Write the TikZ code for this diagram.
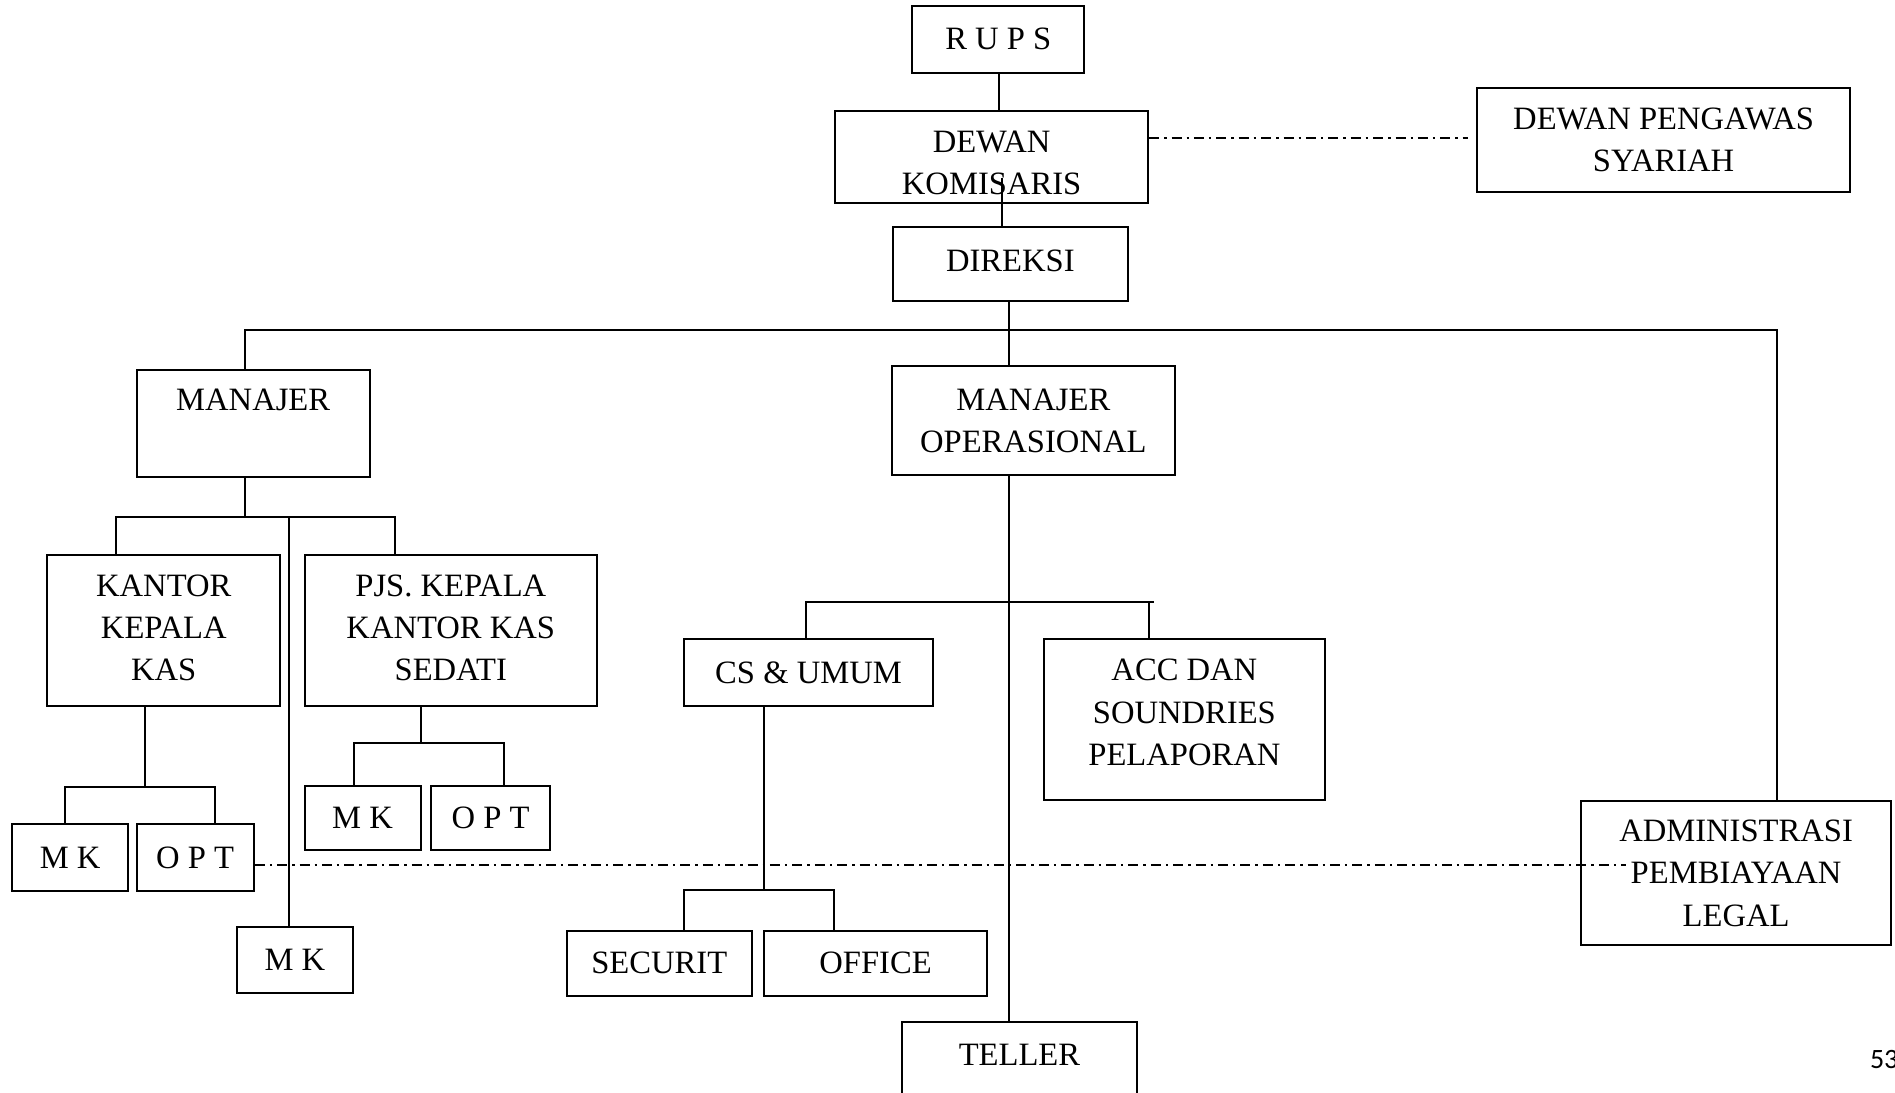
\documentclass[tikz,border=0pt]{standalone}
\usepackage{fontspec}
\setmainfont{Liberation Serif}
\newfontfamily\pagefont{Carlito}
\newcommand\bx[7][0]{%
  \node[box, minimum width={(#5-#3)*0.6043pt}, minimum height={(#6-#4)*0.6043pt}] (#2) at ({(#3+#5)/2},{(#4+#6)/2}) {};
  \node[boxtext, yshift=#1*0.6043pt] (#2t) at (#2.center) {#7};}
\begin{document}
\begin{tikzpicture}[x=0.6043pt, y=-0.6043pt,
  box/.style={draw, line width=1pt, inner sep=0pt},
  boxtext/.style={align=center, inner sep=0pt, font=\fontsize{16.3}{21.15}\selectfont},
  conn/.style={line width=1pt},
  ddot/.style={line width=1pt, dash pattern=on 5pt off 2.5pt on 1.2pt off 2.5pt}]
\useasboundingbox (0,0) rectangle (1568,904);
% boxes
\bx{rups}{755}{5}{897}{60}{R U P S}
\bx[-5]{dk}{691}{92}{950}{168}{DEWAN\\KOMISARIS}
\bx{dps}{1222}{73}{1531}{159}{DEWAN PENGAWAS\\SYARIAH}
\bx[3]{dir}{739}{188}{933}{249}{DIREKSI}
\bx[2]{mgr}{113}{306}{306}{395}{MANAJER\\~}
\bx{mo}{738}{303}{972}{393}{MANAJER\\OPERASIONAL}
\bx[2]{kkk}{39}{459}{232}{584}{KANTOR\\KEPALA\\KAS}
\bx[2]{pjs}{252}{459}{494}{584}{PJS. KEPALA\\KANTOR KAS\\SEDATI}
\bx{cs}{566}{529}{772}{584}{CS \& UMUM}
\bx[6]{acc}{864}{529}{1096}{662}{ACC DAN\\SOUNDRIES\\PELAPORAN}
\bx{adm}{1308}{663}{1565}{782}{ADMINISTRASI\\PEMBIAYAAN\\LEGAL}
\bx{mka}{10}{682}{106}{737}{M K}
\bx{opta}{113}{682}{210}{737}{O P T}
\bx{mkb}{252}{650}{348}{703}{M K}
\bx{optb}{357}{650}{455}{703}{O P T}
\bx{mkc}{196}{767}{292}{822}{M K}
\bx{sec}{469}{770}{622}{824}{SECURIT}
\bx{off}{632}{770}{817}{824}{OFFICE}
\bx{tel}{746}{846}{941}{934}{TELLER\\~}
\node[font=\pagefont\fontsize{14}{14}\selectfont, anchor=west, inner sep=0pt] (pg) at (1547,877) {53};
% junction coordinates
\coordinate (k0) at (827,60);
\coordinate (k1) at (829,147);
\coordinate (j0) at (835,273);
\coordinate (j1) at (203,273);
\coordinate (j2) at (1470,273);
\coordinate (b2l) at (96,428);
\coordinate (b2r) at (327,428);
\coordinate (j4) at (239,428);
\coordinate (j5) at (120,651);
\coordinate (b3l) at (54,651);
\coordinate (b3r) at (178,651);
\coordinate (j6) at (348,615);
\coordinate (b4l) at (293,615);
\coordinate (b4r) at (417,615);
\coordinate (b5l) at (667,498);
\coordinate (b5r) at (955,498);
\coordinate (b5d) at (951,498);
\coordinate (j7) at (632,736);
\coordinate (b6l) at (566,736);
\coordinate (b6r) at (690,736);
\coordinate (dd1) at (1345,716);
\coordinate (dd0) at (1215,114);
% connectors
\draw[conn] (k0) -- (k0 |- dk.north);
\draw[conn] (k1) -- (k1 |- dir.north);
\draw[ddot] (dk.east |- dd0) -- (dd0);
\draw[conn] (j0 |- dir.south) -- (j0 |- mo.north);
\draw[conn] (j1 |- mgr.north) -- (j1) -- (j2) -- (j2 |- adm.north);
\draw[conn] (j1 |- mgr.south) -- (j1 |- b2l);
\draw[conn] (b2l |- kkk.north) -- (b2l) -- (b2r) -- (b2r |- pjs.north);
\draw[conn] (j4) -- (j4 |- mkc.north);
\draw[conn] (j5 |- kkk.south) -- (j5);
\draw[conn] (b3l |- mka.north) -- (b3l) -- (b3r) -- (b3r |- opta.north);
\draw[conn] (j6 |- pjs.south) -- (j6);
\draw[conn] (b4l |- mkb.north) -- (b4l) -- (b4r) -- (b4r |- optb.north);
\draw[conn] (j0 |- mo.south) -- (j0 |- tel.north);
\draw[conn] (b5l |- cs.north) -- (b5l) -- (b5r);
\draw[conn] (b5d) -- (b5d |- acc.north);
\draw[conn] (j7 |- cs.south) -- (j7);
\draw[conn] (b6l |- sec.north) -- (b6l) -- (b6r) -- (b6r |- off.north);
\draw[ddot] (opta.east |- dd1) -- (dd1);
\end{tikzpicture}
\end{document}
